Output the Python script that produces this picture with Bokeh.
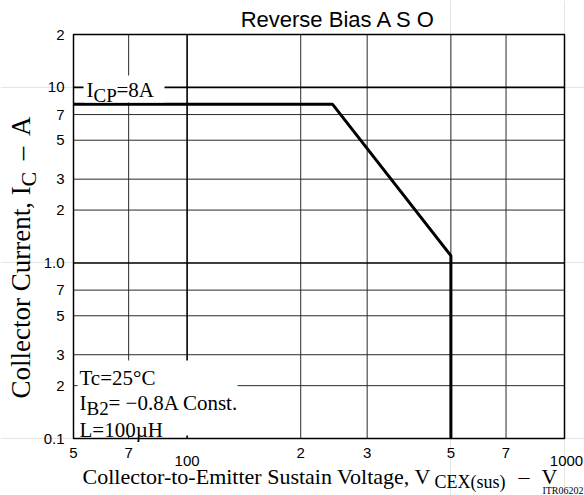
import math
from bokeh.plotting import figure
from bokeh.models import Label, BoxAnnotation, Range1d
from bokeh.embed import file_html
from bokeh.resources import INLINE

# ---- data ----
voltage = [50, 243, 500, 500]        # V_CEX(sus)  [V]
current = [8.0, 8.0, 1.1, 0.1]       # I_C [A]

x_ticks = [50, 70, 100, 200, 300, 500, 700, 1000]
x_tick_labels = ["5", "7", "100", "2", "3", "5", "7", "1000"]
y_ticks = [0.1, 0.2, 0.3, 0.5, 0.7, 1.0, 2, 3, 5, 7, 10, 20]
y_tick_labels = ["0.1", "2", "3", "5", "7", "1.0", "2", "3", "5", "7", "10", "2"]
x_grid_minor = [70, 200, 300, 500, 700]
x_grid_major = [100]
y_grid_minor = [0.2, 0.3, 0.5, 0.7, 2, 3, 5, 7]
y_grid_major = [1.0, 10]

X0, X1 = x_ticks[0], x_ticks[-1]
Y0, Y1 = y_ticks[0], y_ticks[-1]

# ---- page layout: where the plotting frame sits (pixels) ----
W, H = 584, 495
FX0, FY0, FX1, FY1 = 73, 438, 564, 34
XPD = (FX1 - FX0) / math.log10(X1 / X0)
YPD = (FY0 - FY1) / math.log10(Y1 / Y0)

def dx(px):
    return X0 * 10 ** ((px - FX0) / XPD)

def dy(py):
    return Y0 * 10 ** ((FY0 - py) / YPD)

p = figure(width=W, height=H, x_axis_type="log", y_axis_type="log",
           x_axis_location=None, y_axis_location=None,
           x_range=Range1d(dx(0), dx(W)), y_range=Range1d(dy(H), dy(0)),
           output_backend="svg", toolbar_location=None, min_border=0)
p.title.visible = False
p.outline_line_color = None
p.background_fill_color = "white"
p.border_fill_color = "white"

# ---- grid lines (limited to the chart box) ----
p.segment(x0=x_grid_minor, y0=[Y0] * len(x_grid_minor), x1=x_grid_minor, y1=[Y1] * len(x_grid_minor),
          line_color="#2a2a2a", line_width=1)
p.segment(x0=[X0] * len(y_grid_minor), y0=y_grid_minor, x1=[X1] * len(y_grid_minor), y1=y_grid_minor,
          line_color="#2a2a2a", line_width=1)
p.segment(x0=x_grid_major, y0=[Y0] * len(x_grid_major), x1=x_grid_major, y1=[Y1] * len(x_grid_major),
          line_color="black", line_width=1.6)
p.segment(x0=[X0] * len(y_grid_major), y0=y_grid_major, x1=[X1] * len(y_grid_major), y1=y_grid_major,
          line_color="black", line_width=1.6)

# ---- the ASO curve ----
p.line(voltage, current, line_color="black", line_width=3)

# ---- white boxes behind annotations ----
p.add_layout(BoxAnnotation(left=dx(83), right=dx(164), bottom=dy(102), top=dy(75),
                           fill_color="white", fill_alpha=1, line_color=None))
p.add_layout(BoxAnnotation(left=dx(77), right=dx(237), bottom=dy(435), top=dy(360),
                           fill_color="white", fill_alpha=1, line_color=None))

# ---- chart border ----
p.add_layout(BoxAnnotation(left=X0, right=X1, bottom=Y0, top=Y1,
                           fill_color=None, fill_alpha=0, line_color="black",
                           line_alpha=1, line_dash="solid", line_width=1.5))

def put(text, px, py, size, font="Liberation Serif", align="left",
        baseline="alphabetic", angle=0.0):
    if baseline == "alphabetic":
        if angle:
            px -= 0.43 * size
        else:
            py -= 0.28 * size
    p.add_layout(Label(x=X0, y=Y0, x_offset=px - FX0, y_offset=FY0 - py,
                       text=text, text_font=font, text_font_size=f"{size}px",
                       text_align=align, text_baseline=baseline, angle=angle,
                       text_color="black"))

# ---- tick labels (placed through the scales) ----
for t, lab in zip(x_ticks, x_tick_labels):
    low = lab in ("100", "1000")
    p.add_layout(Label(x=t, y=Y0, y_offset=-(17 if low else 9), x_offset=(2 if lab == "1000" else 0),
                       text=lab, text_font="Liberation Sans", text_font_size="15px",
                       text_align="center", text_baseline="top", text_color="black"))
for t, lab in zip(y_ticks, y_tick_labels):
    p.add_layout(Label(x=X0, y=t, x_offset=-9, text=lab, text_font="Liberation Sans",
                       text_font_size="15px", text_align="right", text_baseline="middle",
                       text_color="black"))

# I_CP = 8A
put("I", 86, 95, 21)
put("CP", 93, 100, 19)
put("=8A", 116, 95, 21)

# condition block
put("Tc=25°C", 79, 383, 21)
put("I", 79, 408, 21)
put("B2", 86, 413, 19)
put("= −0.8A Const.", 108, 408, 21)
put("L=100µH", 79, 435, 21)

# title
put("Reverse Bias A S O", 338, 25, 22, font="Liberation Sans", align="center")

# x axis label
put("Collector-to-Emitter Sustain Voltage, V", 82, 482, 22)
put("CEX(sus)", 434, 487, 18)
put("–", 518, 482, 22)
put("V", 541, 482, 22)
put("ITR06202", 583, 495, 10, align="right", baseline="bottom")

# y axis label (rotated)
ang = math.pi / 2
put("Collector Current, I", 32, 398, 27, angle=ang)
put("C", 37, 186, 22, angle=ang)
put("–", 32, 153, 27, align="center", angle=ang)
put("A", 32, 116, 27, align="right", angle=ang)

open("out.html", "w").write(file_html(p, INLINE))
